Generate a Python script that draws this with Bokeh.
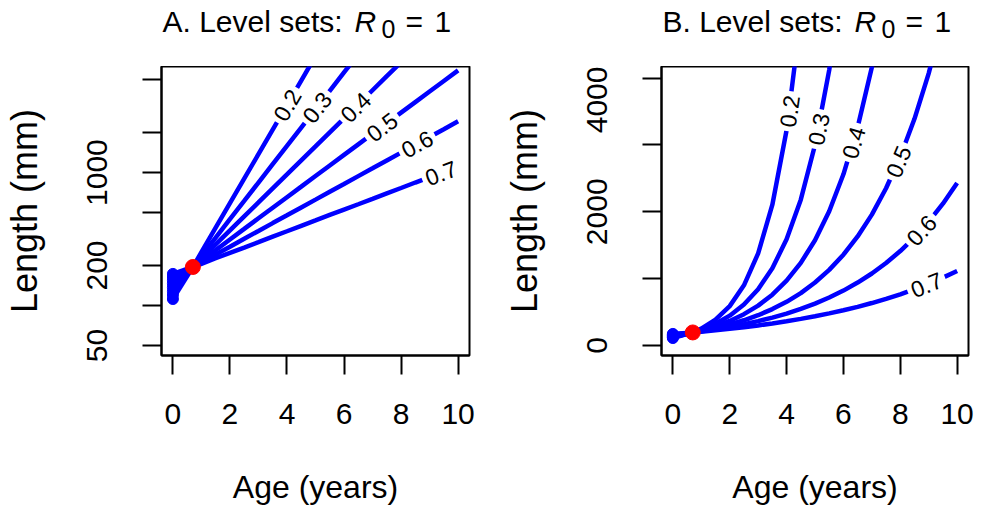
import math
import numpy as np
from bokeh.plotting import figure
from bokeh.models import Range1d, FixedTicker
from bokeh.layouts import row, column
from bokeh.core.properties import value
from bokeh.embed import file_html
from bokeh.resources import INLINE

# ---------------- data ----------------
ages_grid = [0.7, 1, 1.5, 2, 2.5, 3, 3.5, 4, 4.5, 5, 5.5, 6, 6.5, 7, 7.5, 8, 8.5, 9, 9.5, 10]
levels = ["0.2", "0.3", "0.4", "0.5", "0.6", "0.7"]
len_02 = [195, 252, 385, 589, 900, 1377, 2106, 3220, 4924, 7531]
len_03 = [195, 236, 324, 446, 612, 841, 1156, 1588, 2182, 2999, 4120, 5661, 7779]
len_04 = [195, 226, 288, 367, 468, 596, 760, 969, 1236, 1575, 2009, 2561, 3265, 4163, 5308, 6767]
len_05 = [195, 218, 261, 314, 377, 453, 544, 653, 784, 942, 1131, 1358, 1631, 1958, 2352, 2824, 3391, 4072, 4889, 5871]
len_06 = [195, 212, 242, 277, 318, 364, 417, 477, 547, 626, 717, 821, 941, 1077, 1234, 1413, 1618, 1852, 2121, 2430]
len_07 = [195, 206, 227, 249, 273, 300, 330, 362, 398, 437, 480, 527, 578, 635, 698, 766, 842, 924, 1015, 1114]
level_lengths = [len_02, len_03, len_04, len_05, len_06, len_07]

# label positions (age along each level line)
label_age_A = [4.0, 5.05, 6.4, 7.33, 8.56, 9.4]
label_age_B = [4.1, 5.12, 6.35, 7.93, 8.74, 8.92]

# starting observations (age 0) and reference point
start_age = [0, 0, 0, 0, 0, 0, 0, 0]
start_len = [112, 120, 128, 137, 146, 155, 164, 173]
ref_age = [0.7]
ref_len = [195]

x_ticks = [0, 2, 4, 6, 8, 10]
yA_ticks = [50, 100, 200, 500, 1000, 2000, 5000]
yA_labels = {50: "50", 100: "", 200: "200", 500: "", 1000: "1000", 2000: "", 5000: ""}
yB_ticks = [0, 1000, 2000, 3000, 4000]
yB_labels = {0: "0", 1000: "", 2000: "2000", 3000: "", 4000: "4000"}

panel_letters = ["A", "B"]
title_main = ". Level sets: "
title_sym = "R"
title_sub = "0"
title_eq = "="
title_one = "1"
x_title = "Age (years)"
y_title = "Length (mm)"

# ---------------- styling / layout ----------------
FONT = "Liberation Sans"
BLUE = "#0000FF"
RED = "#FF0000"
FW, FH = 308, 289
HEAD_H = 66
BOTTOM = 154
XR = (-0.4, 10.4)
YA = (42.1, 6280)
YB = (-150, 4174)
TICK_FS = "30px"
TITLE_F = 30
XLAB_F = 32
YLAB_F = 36
LW = 4.5


def style(p, xt, yt, ylab_over):
    p.outline_line_color = "black"
    p.outline_line_width = 2
    p.xgrid.visible = False
    p.ygrid.visible = False
    p.background_fill_color = "white"
    p.border_fill_color = "white"
    p.xaxis.ticker = FixedTicker(ticks=xt)
    p.yaxis.ticker = FixedTicker(ticks=yt)
    p.yaxis.major_label_overrides = ylab_over
    p.yaxis.major_label_orientation = "vertical"
    p.xaxis.axis_label = x_title
    p.yaxis.axis_label = y_title
    for ax in (p.xaxis[0], p.yaxis[0]):
        ax.axis_line_color = "black"
        ax.axis_line_width = 2
        ax.major_tick_line_color = "black"
        ax.major_tick_line_width = 2
        ax.major_tick_out = 19
        ax.major_tick_in = 0
        ax.minor_tick_line_color = None
        ax.major_label_text_font = FONT
        ax.major_label_text_font_size = TICK_FS
        ax.major_label_text_color = "black"
        ax.axis_label_text_font = FONT
        ax.axis_label_text_font_style = "normal"
        ax.axis_label_text_color = "black"
    p.xaxis.axis_label_text_font_size = f"{XLAB_F}px"
    p.yaxis.axis_label_text_font_size = f"{YLAB_F}px"
    p.xaxis.major_label_standoff = 29
    p.yaxis.major_label_standoff = 35
    p.xaxis.axis_label_standoff = 42
    p.yaxis.axis_label_standoff = 40


def L_at(lens, a):
    ag = ages_grid[:len(lens)]
    return 10 ** np.interp(a, ag, np.log10(lens))


def draw(p, log_y, label_ages):
    px = FW / (XR[1] - XR[0])
    if log_y:
        py = FH / (math.log10(YA[1]) - math.log10(YA[0]))
    else:
        py = FH / (YB[1] - YB[0])
    p.segment(x0=start_age, y0=start_len, x1=[ref_age[0]] * len(start_age), y1=[ref_len[0]] * len(start_len),
              line_color=BLUE, line_width=LW)
    p.scatter(x=start_age, y=start_len, size=11, fill_color=BLUE, line_color=BLUE)
    for lens in level_lengths:
        p.line(x=ages_grid[:len(lens)], y=lens, line_color=BLUE, line_width=LW)
    lx, ly, la = [], [], []
    h = 0.05
    for lens, a in zip(level_lengths, label_ages):
        y = float(L_at(lens, a))
        y1, y0 = float(L_at(lens, a + h)), float(L_at(lens, a - h))
        if log_y:
            dy = (math.log10(y1) - math.log10(y0)) * py
        else:
            dy = (y1 - y0) * py
        lx.append(a); ly.append(y); la.append(math.atan2(dy, 2 * h * px))
    p.text(x=lx, y=ly, text=levels, angle=la, text_align="center", text_baseline="middle",
           text_font=value(FONT), text_font_size="23px", text_color="black",
           background_fill_color="white", padding=4)
    p.scatter(x=ref_age, y=ref_len, size=15, fill_color=RED, line_color=RED)


# ---------- header with the two panel titles ----------
TOTAL_W = 980
head = figure(frame_width=TOTAL_W, frame_height=HEAD_H, x_range=Range1d(0, TOTAL_W), y_range=Range1d(0, HEAD_H),
              x_axis_location=None, y_axis_location=None, output_backend="svg", toolbar_location=None,
              min_border=0, min_border_left=0, min_border_right=0, min_border_top=0, min_border_bottom=0)
head.outline_line_color = None
head.xgrid.visible = False
head.ygrid.visible = False
title_x0 = [162, 662]
base_y = HEAD_H - 33 + 12
F = TITLE_F
SUB_F = 25
common = dict(text_font=value(FONT), text_align="left", text_baseline="alphabetic", text_color="black")
head.text(x=title_x0, y=[base_y] * 2, text=[l + title_main for l in panel_letters],
          text_font_size=f"{F}px", **common)
head.text(x=[x0 + 6.4 * F for x0 in title_x0], y=[base_y] * 2, text=[title_sym] * 2,
          text_font_size=f"{F}px", text_font_style="italic", **common)
head.text(x=[x0 + 7.3 * F for x0 in title_x0], y=[base_y - 7] * 2, text=[title_sub] * 2,
          text_font_size=f"{SUB_F}px", **common)
head.text(x=[x0 + 8.1 * F for x0 in title_x0], y=[base_y] * 2, text=[title_eq] * 2,
          text_font_size=f"{F}px", **common)
head.text(x=[x0 + 9.07 * F for x0 in title_x0], y=[base_y] * 2, text=[title_one] * 2,
          text_font_size=f"{F}px", **common)

# ---------- panels ----------
pA = figure(frame_width=FW, frame_height=FH, x_range=Range1d(*XR), y_range=Range1d(*YA),
            y_axis_type="log", output_backend="svg", toolbar_location=None,
            min_border_left=161, min_border_right=23, min_border_top=0, min_border_bottom=BOTTOM)
style(pA, x_ticks, yA_ticks, yA_labels)
draw(pA, True, label_age_A)

pB = figure(frame_width=FW - 1, frame_height=FH, x_range=Range1d(*XR), y_range=Range1d(*YB),
            output_backend="svg", toolbar_location=None,
            min_border_left=169, min_border_right=12, min_border_top=0, min_border_bottom=BOTTOM)
style(pB, x_ticks, yB_ticks, yB_labels)
draw(pB, False, label_age_B)

layout = column(head, row(pA, pB))
open("out.html", "w").write(file_html(layout, INLINE))
